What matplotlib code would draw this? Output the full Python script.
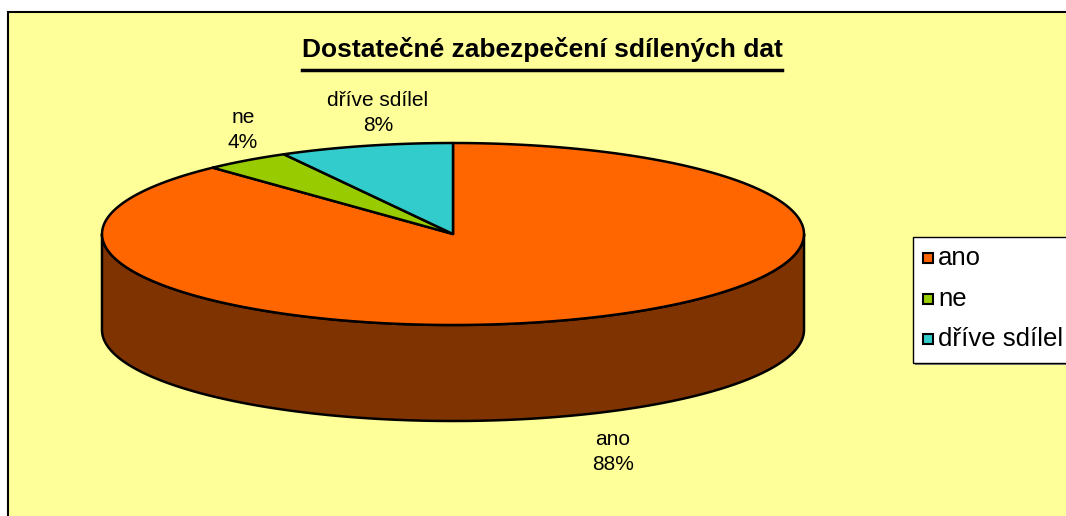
import numpy as np
import matplotlib
matplotlib.use("Agg")
import matplotlib.pyplot as plt
from matplotlib.patches import Polygon, Rectangle

plt.rcParams['font.family'] = ['Liberation Sans', 'DejaVu Sans']

# data
categories = ['ano', 'ne', 'dříve sdílel']
values = [88, 4, 8]
colors = ['#FF6600', '#99CC00', '#33CCCC']
side_color = '#7F3300'
title = 'Dostatečné zabezpečení sdílených dat'

# layout in pixels (y goes down)
cx, cy = 453, 234
rx, ry = 351, 91
depth = 96
label_pos = [(613, 452), (243, 130), (378, 113)]


def ellipse_pts(a0, a1, dy=0, n=200):
    # angles in degrees, clockwise from 12 o'clock
    t = np.radians(np.linspace(a0, a1, n))
    return np.column_stack([cx + rx * np.sin(t), cy - ry * np.cos(t) + dy])


fig = plt.figure(figsize=(10.66, 5.16), dpi=100)
ax = fig.add_axes([0, 0, 1, 1])
ax.set_xlim(0, 1066)
ax.set_ylim(516, 0)
ax.axis('off')

# chart area
ax.add_patch(Rectangle((8, 12), 1070, 520, facecolor='#FFFF99',
                       edgecolor='black', linewidth=1.5))

total = sum(values)
angles = np.cumsum([0] + [v / total * 360 for v in values])

# side of the pie (only the front half shows, all of it belongs to 'ano')
top = ellipse_pts(90, 270)
bottom = ellipse_pts(270, 90, dy=depth)
ax.add_patch(Polygon(np.vstack([top, bottom]), closed=True, facecolor=side_color,
                     edgecolor='black', linewidth=1.8, joinstyle='round'))

# top face
for i in range(len(values)):
    arc = ellipse_pts(angles[i], angles[i + 1])
    pts = np.vstack([[cx, cy], arc])
    ax.add_patch(Polygon(pts, closed=True, facecolor=colors[i],
                         edgecolor='black', linewidth=1.8, joinstyle='round'))

# data labels
for i, cat in enumerate(categories):
    pct = round(values[i] / total * 100)
    x, y = label_pos[i]
    ax.text(x, y, cat + '\n' + str(pct) + '%', ha='center', va='center',
            fontsize=15, linespacing=1.35, color='black')

# title with underline
t = ax.text(542, 50, title, ha='center', va='center', fontsize=19,
            fontweight='bold', color='black')
fig.canvas.draw()
bb = t.get_window_extent().transformed(ax.transData.inverted())
ax.plot([bb.x0, bb.x1], [70, 70], color='black', linewidth=2.5)

# legend box
ax.add_patch(Rectangle((915, 239), 200, 126, facecolor='#808080', edgecolor='none'))
ax.add_patch(Rectangle((913, 237), 200, 126, facecolor='white',
                       edgecolor='black', linewidth=1))
row_y = [258, 299, 339]
for i, cat in enumerate(categories):
    ax.add_patch(Rectangle((923, row_y[i] - 5), 10, 10, facecolor=colors[i],
                           edgecolor='black', linewidth=1.5))
    ax.text(938, row_y[i], cat, ha='left', va='center', fontsize=18.5, color='black')

fig.savefig('out.png', dpi=100, facecolor='white')
